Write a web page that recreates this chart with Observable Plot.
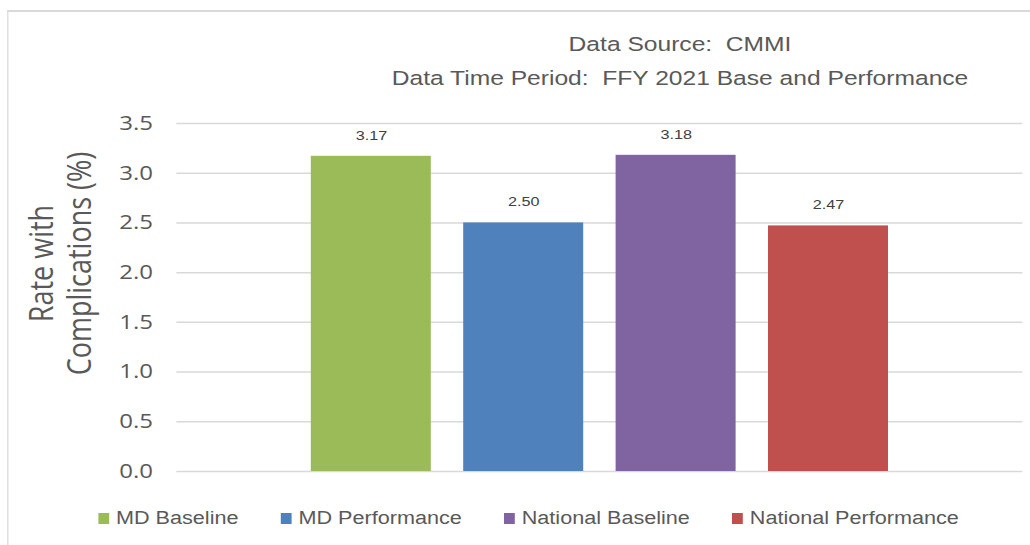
<!DOCTYPE html>
<html>
<head>
<meta charset="utf-8">
<script src="https://cdn.jsdelivr.net/npm/d3@7"></script>
<script src="https://cdn.jsdelivr.net/npm/@observablehq/plot@0.6"></script>
<style>
  html, body { margin: 0; padding: 0; background: #fff; }
  body { width: 1030px; height: 545px; position: relative; overflow: hidden; }
  #page { position: absolute; left: 0; top: 0; width: 858.33px; height: 545px;
          transform: scaleX(1.2); transform-origin: 0 0; }
  #frame { position: absolute; left: 5.8px; top: 10px; right: -2px; bottom: -2px;
           border-top: 2px solid #d9d9d9; border-left: 1.7px solid #d9d9d9; }
  #title { position: absolute; left: 266.7px; width: 600px; top: 27px; text-align: center;
           font-family: "Liberation Sans", Arial, sans-serif;
           font-size: 20.5px; line-height: 34px; color: #595959; }
  #chart { position: absolute; left: 0; top: 100px; }
  #legend { position: absolute; left: 81.7px; top: 508px; display: flex; gap: 35px;
            font-family: "Liberation Sans", Arial, sans-serif;
            font-size: 18px; color: #595959; align-items: center; }
  .item { display: flex; align-items: center; gap: 6px; white-space: nowrap; }
  .sw { width: 9px; height: 11px; display: inline-block; }
</style>
</head>
<body>
<div id="page">
<div id="frame"></div>
<div id="title"></div>
<div id="chart"></div>
<div id="legend"></div>
</div>
<script>
const titleLines = ["Data Source:  CMMI", "Data Time Period:  FFY 2021 Base and Performance"];
const categories = ["MD Baseline", "MD Performance", "National Baseline", "National Performance"];
const values = [3.17, 2.50, 3.18, 2.47];
const colors = ["#9BBB59", "#4F81BD", "#8064A2", "#C0504D"];
const yTicks = [0, 0.5, 1.0, 1.5, 2.0, 2.5, 3.0, 3.5];
const yLabel = "Rate with\nComplications (%)";

const data = categories.map((c, i) => ({cat: c, value: values[i]}));

document.getElementById("title").innerHTML = titleLines.map(t => `<div>${t.replace(/ {2}/g, " &nbsp;")}</div>`).join("");

const legend = document.getElementById("legend");
categories.forEach((c, i) => {
  const it = document.createElement("div");
  it.className = "item";
  it.innerHTML = `<span class="sw" style="background:${colors[i]}"></span><span>${c}</span>`;
  legend.appendChild(it);
});

const chart = Plot.plot({
  width: 858,
  height: 390,
  marginTop: 23,
  marginBottom: 19,
  marginLeft: 147,
  marginRight: 6,
  style: {fontFamily: "'Open Sans', sans-serif", background: "transparent", overflow: "visible"},
  x: {domain: categories, paddingInner: 0.212, paddingOuter: 0.861, axis: null},
  y: {domain: [0, 3.5], label: null, axis: null},
  color: {domain: categories, range: colors},
  marks: [
    Plot.ruleY(yTicks, {stroke: "#d9d9d9", strokeWidth: 1.5}),
    Plot.barY(data, {x: "cat", y: "value", fill: "cat"}),
    Plot.text(data, {x: "cat", y: "value", text: d => d.value.toFixed(2), dy: -21,
      fontSize: 13.5, fill: "#404040", fontFamily: "'Liberation Sans', Arial, sans-serif"}),
    Plot.axisY(yTicks, {tickFormat: d3.format(".1f"), tickSize: 0, tickPadding: 20,
      fontSize: 20, color: "#595959", label: null}),
    Plot.text([yLabel], {frameAnchor: "left", textAnchor: "middle", dx: -97.5, dy: -34, rotate: -90,
      fontSize: 27, fill: "#595959", lineHeight: 1.15})
  ]
});
document.getElementById("chart").appendChild(chart);
</script>
</body>
</html>
